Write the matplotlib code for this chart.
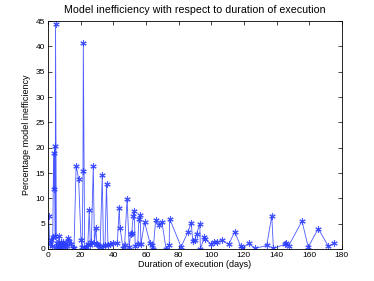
import matplotlib
matplotlib.use("Agg")
import matplotlib.pyplot as plt

# duration of execution (days) and model inefficiency (%)
days = [0.4, 1.2, 2.0, 2.5, 3.0, 3.5, 3.8, 4.1, 4.5, 4.7, 5.2, 5.7, 6.3, 6.7,
        7.2, 7.8, 8.3, 8.8, 9.5, 10.2, 11.0, 11.6, 12.2, 13.0, 14.0, 15.4,
        16.0, 17.3, 18.8, 20.3, 21.0, 21.5, 21.7, 22.5, 23.5, 24.5, 25.3,
        26.0, 26.6, 27.8, 28.5, 29.4, 30.0, 31.0, 32.0, 33.3, 34.0, 35.0,
        35.9, 36.8, 38.0, 40.0, 42.5, 43.7, 44.2, 46.0, 47.0, 48.5, 49.8,
        50.6, 51.3, 52.3, 52.9, 53.5, 55.0, 55.8, 56.5, 57.0, 59.2, 62.5,
        63.5, 64.5, 66.0, 68.3, 69.8, 72.4, 74.3, 74.5, 81.6, 85.8, 87.8,
        88.7, 89.9, 91.1, 93.0, 93.4, 95.9, 96.5, 99.6, 101.6, 103.3, 106.8,
        110.7, 114.4, 118.1, 118.8, 122.9, 126.8, 134.0, 137.1, 138.1, 144.9,
        145.9, 147.4, 155.6, 159.4, 165.6, 171.8, 175.5]
ineff = [6.6, 1.0, 1.8, 0.5, 2.3, 19.0, 11.9, 20.3, 2.6, 44.5, 0.3, 1.1, 0.2,
         2.6, 0.6, 1.3, 0.1, 0.8, 1.4, 0.3, 1.2, 0.6, 2.1, 1.5, 0.9, 0.2,
         0.1, 16.4, 13.9, 1.7, 0.3, 15.4, 40.6, 0.2, 0.4, 1.0, 7.6, 0.8, 1.3,
         16.4, 1.2, 4.1, 1.0, 0.7, 0.3, 14.6, 0.6, 0.8, 12.9, 0.7, 0.9, 1.2,
         1.1, 8.1, 4.2, 0.1, 0.8, 9.9, 0.3, 2.9, 3.1, 6.6, 7.4, 0.5, 1.0,
         6.0, 6.8, 1.0, 5.3, 1.2, 0.8, 0.0, 5.7, 4.7, 5.4, 0.0, 0.8, 6.0,
         0.4, 3.4, 5.2, 1.5, 1.7, 3.0, 5.0, 0.0, 2.4, 2.0, 1.0, 1.3, 1.3,
         1.7, 0.9, 3.4, 0.5, 0.1, 1.1, 0.1, 0.7, 6.5, 0.1, 0.9, 1.2, 0.6,
         5.5, 0.4, 4.0, 0.5, 1.2]

plt.rcParams['font.family'] = ['Liberation Sans', 'DejaVu Sans']

fig = plt.figure(figsize=(3.74, 2.81), dpi=100)
ax = fig.add_axes([0.128, 0.114, 0.786, 0.811])

ax.plot(days, ineff, color='#2a3cff', linewidth=0.6, marker=(6, 2, 0),
        markersize=4.5, markeredgewidth=0.8, alpha=0.85)

ax.set_title("Model inefficiency with respect to duration of execution", fontsize=7.7)
ax.set_xlabel("Duration of execution (days)", fontsize=6.5, labelpad=1)
ax.set_ylabel("Percentage model inefficiency", fontsize=6.5, labelpad=3)

ax.axis([0, 180, 0, 45])
ax.set_xticks(range(0, 181, 20))
ax.set_yticks(range(0, 46, 5))
ax.tick_params(axis='both', which='major', labelsize=6, direction='in',
               top=True, right=True, length=3, width=0.5, pad=2)
for s in ax.spines.values():
    s.set_linewidth(0.6)

plt.savefig("out.png", dpi=100)
